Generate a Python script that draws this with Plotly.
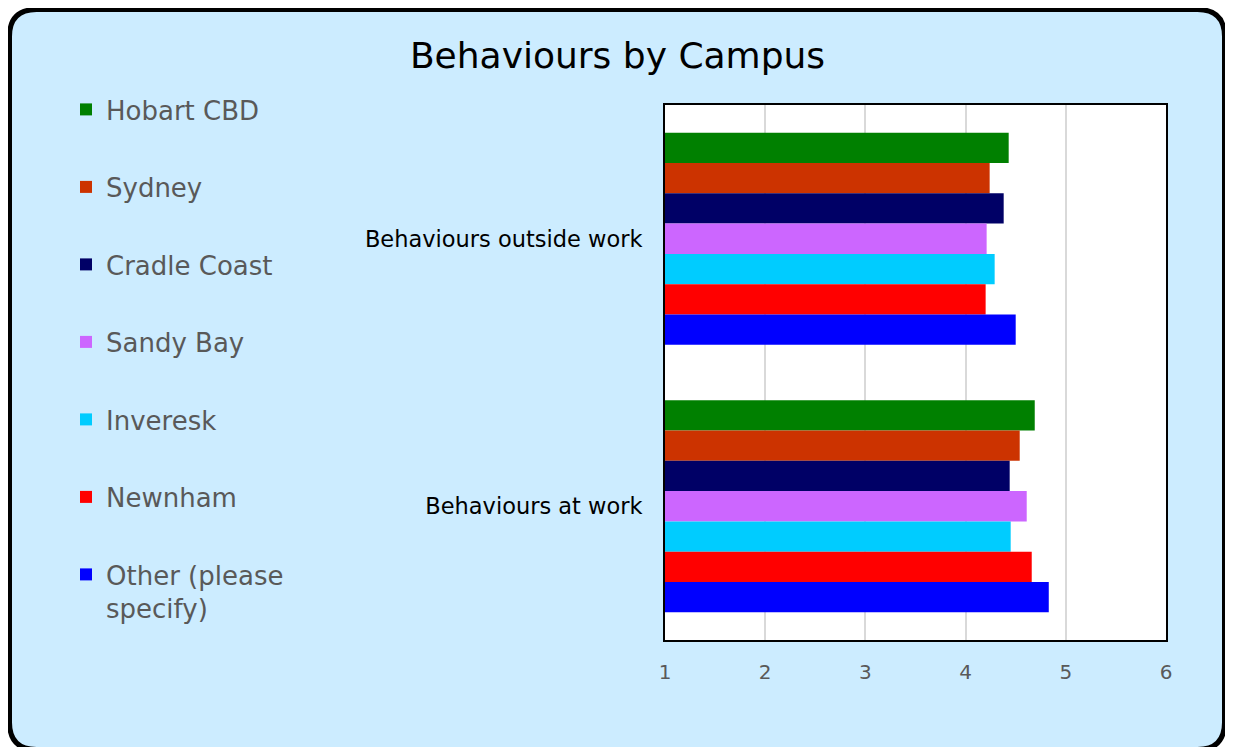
import plotly.graph_objects as go

categories = ["Behaviours outside work", "Behaviours at work"]
campuses = ["Hobart CBD", "Sydney", "Cradle Coast", "Sandy Bay", "Inveresk", "Newnham", "Other (please specify)"]
legend_labels = ["Hobart CBD", "Sydney", "Cradle Coast", "Sandy Bay", "Inveresk", "Newnham", "Other (please<br>specify)"]
colors = ["#008000", "#CC3300", "#000066", "#CC66FF", "#00CCFF", "#FF0000", "#0000FF"]
outside_work = [4.43, 4.24, 4.38, 4.21, 4.29, 4.20, 4.50]
at_work = [4.69, 4.54, 4.44, 4.61, 4.45, 4.66, 4.83]
x_ticks = [1, 2, 3, 4, 5, 6]

# page body has an 8px margin, so figure coords = screen coords - 8
W, H = 1225, 739
L, R, T, B = 657, 67, 97, 107
PW, PH = W - L - R, H - T - B
FONT = "DejaVu Sans"


def px(x):
    return (x - L) / PW


def py(y):
    return (H - B - y) / PH


fig = go.Figure()
for i, name in enumerate(campuses):
    fig.add_trace(go.Bar(
        y=categories,
        x=[outside_work[i], at_work[i]],
        name=legend_labels[i],
        orientation="h",
        marker=dict(color=colors[i], line=dict(width=0)),
        legendgroup=name,
    ))

# rounded outer box
x0, y0, x1, y1, r = 1.5, 1.5, 1216.5, 741.5, 27
path = (
    f"M {px(x0 + r)},{py(y0)} L {px(x1 - r)},{py(y0)} "
    f"Q {px(x1)},{py(y0)} {px(x1)},{py(y0 + r)} "
    f"L {px(x1)},{py(y1 - r)} Q {px(x1)},{py(y1)} {px(x1 - r)},{py(y1)} "
    f"L {px(x0 + r)},{py(y1)} Q {px(x0)},{py(y1)} {px(x0)},{py(y1 - r)} "
    f"L {px(x0)},{py(y0 + r)} Q {px(x0)},{py(y0)} {px(x0 + r)},{py(y0)} Z"
)
fig.add_shape(type="path", path=path, xref="paper", yref="paper",
              fillcolor="#CCECFF", line=dict(color="black", width=5), layer="below")
fig.add_shape(type="rect", x0=0, x1=1, y0=0, y1=1, xref="paper", yref="paper",
              fillcolor="white", line=dict(width=0), layer="below")

fig.update_layout(
    width=W, height=H,
    margin=dict(l=L, r=R, t=T, b=B, pad=0),
    paper_bgcolor="white",
    plot_bgcolor="rgba(0,0,0,0)",
    font=dict(family=FONT),
    barmode="group",
    bargap=0.207,
    bargroupgap=0,
    title=dict(text="Behaviours by Campus", x=609.5 / W, xref="container", xanchor="center",
               y=1 - 47 / H, yref="container", yanchor="middle",
               font=dict(family=FONT, size=36, color="black")),
    legend=dict(
        x=px(58), y=py(78), xanchor="left", yanchor="top",
        xref="paper", yref="paper",
        font=dict(family=FONT, size=26, color="#595959"),
        bgcolor="rgba(0,0,0,0)",
        traceorder="grouped",
        tracegroupgap=40.7,
        valign="top",
        itemwidth=30,
        maxheight=700,
    ),
    xaxis=dict(
        range=[1, 6], tickvals=x_ticks, ticktext=[str(t) for t in x_ticks],
        showgrid=True, gridcolor="#D9D9D9", gridwidth=2,
        showline=True, linecolor="black", linewidth=2, mirror=True,
        zeroline=False, ticks="", ticklabelstandoff=13,
        tickfont=dict(family=FONT, size=20, color="#595959"),
    ),
    yaxis=dict(
        categoryorder="array", categoryarray=categories, autorange="reversed",
        showline=True, linecolor="black", linewidth=2, mirror=True,
        ticks="", ticklabelstandoff=16,
        tickfont=dict(family=FONT, size=22.5, color="black"),
    ),
)

fig.write_html("out.html")
